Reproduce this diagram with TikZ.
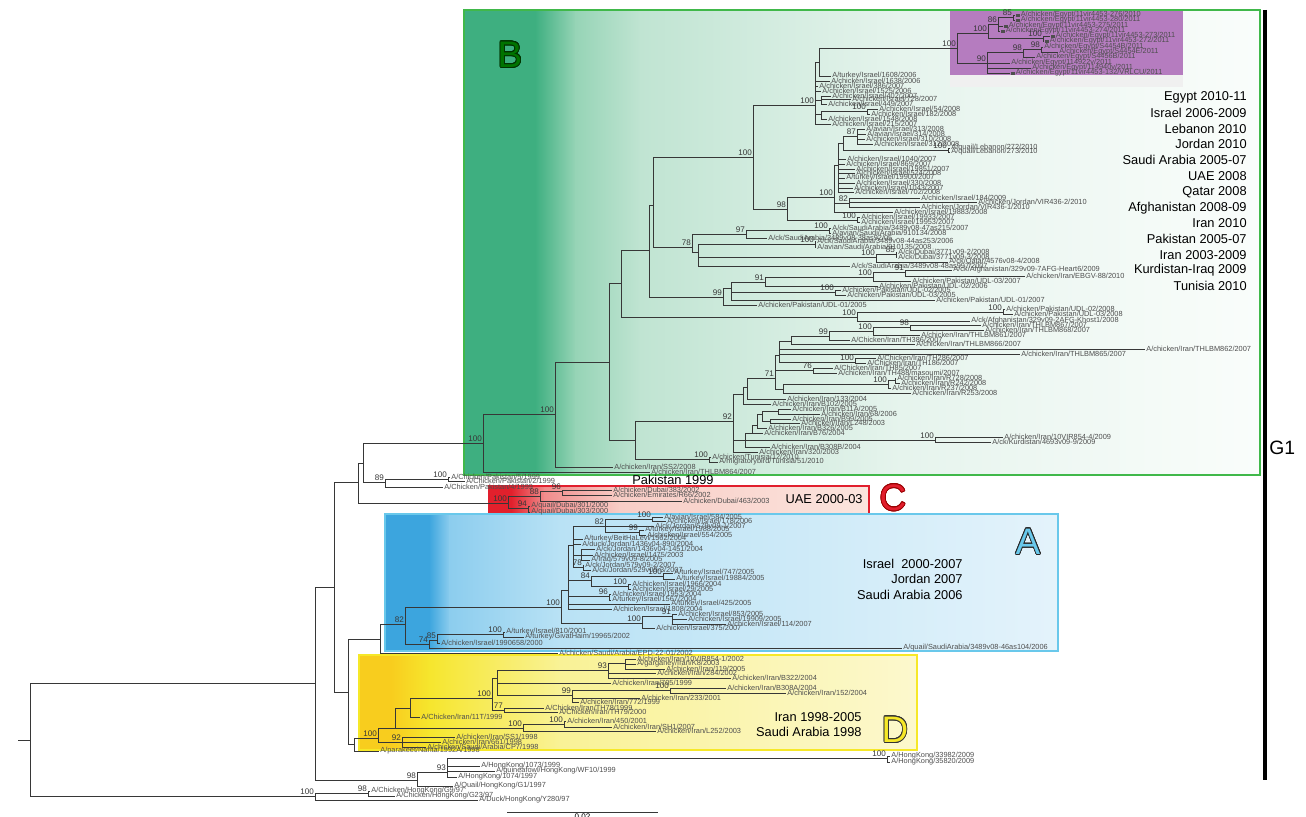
\documentclass[tikz,border=0pt]{standalone}
\usepackage{fontspec}
\setmainfont{Liberation Sans}
\usepackage[copies]{contour}
\contourlength{0.45pt}

\definecolor{brc}{RGB}{55,55,55}
\definecolor{lfc}{RGB}{78,78,78}
\definecolor{gA}{RGB}{62,175,128}
\definecolor{gB}{RGB}{150,212,182}
\definecolor{gC}{RGB}{192,228,210}
\definecolor{gD}{RGB}{230,244,237}
\definecolor{gE}{RGB}{250,253,251}
\definecolor{gline}{RGB}{64,184,74}
\definecolor{egy}{RGB}{181,124,191}
\definecolor{cA}{RGB}{226,32,44}
\definecolor{cB}{RGB}{240,140,140}
\definecolor{cC}{RGB}{248,205,198}
\definecolor{cD}{RGB}{251,228,221}
\definecolor{cline}{RGB}{225,30,45}
\definecolor{aA}{RGB}{60,165,222}
\definecolor{aB}{RGB}{140,205,238}
\definecolor{aC}{RGB}{185,226,245}
\definecolor{aD}{RGB}{228,243,251}
\definecolor{aline}{RGB}{105,200,235}
\definecolor{dA}{RGB}{248,205,30}
\definecolor{dB}{RGB}{246,230,45}
\definecolor{dC}{RGB}{249,242,150}
\definecolor{dD}{RGB}{252,248,205}
\definecolor{dline}{RGB}{246,232,40}

\newcounter{leafno}
% inner node: name, parent, x, y
\newcommand{\inode}[4]{\coordinate (#1) at (#3,#4); \draw[br] (#2) |- (#1);}
% inner node with bootstrap value
\newcommand{\bnode}[5]{\inode{#1}{#2}{#3}{#4}\node[bs] (#1-bs) at (#1) {#5};}
% leaf: parent, x, y, label
\newcommand{\tleaf}[4]{\stepcounter{leafno}%
  \node[lf] (lf\arabic{leafno}) at (#2,#3) {#4};
  \draw[br] (#1) |- (lf\arabic{leafno}.west);}
\newcommand{\esq}{\rule{1.8pt}{1.8pt}\hspace{0.7pt}}

\begin{document}
\begin{tikzpicture}[x=0.02cm,y=-0.02cm,
  br/.style={draw=brc,line width=0.55pt},
  lf/.style={anchor=west,inner sep=0.6pt,text=lfc,font=\fontsize{4.2}{4.2}\selectfont},
  bs/.style={anchor=south east,inner sep=0.5pt,text=brc,font=\fontsize{4.6}{4.6}\selectfont},
  reg/.style={inner sep=0pt,font=\fontsize{7.3}{7.3}\selectfont}]
\useasboundingbox (0,0) rectangle (1306,817);

% clade B
\fill[gA] (464,10) rectangle (536,475);
\shade[left color=gA,right color=gB] (535,10) rectangle (576,475);
\shade[left color=gB,right color=gC] (575,10) rectangle (641,475);
\shade[left color=gC,right color=gD] (640,10) rectangle (901,475);
\shade[left color=gD,right color=gE] (900,10) rectangle (1260,475);
\draw[gline,line width=1.2pt] (464,10) rectangle (1260,475);
\fill[egy] (950,11) rectangle (1183,75);
\fill[black!6] (950,75) rectangle (1183,87);
% clade C
\fill[cA] (489,486) rectangle (512,514);
\shade[left color=cA,right color=cB] (511,486) rectangle (545,514);
\shade[left color=cB,right color=cC] (544,486) rectangle (620,514);
\shade[left color=cC,right color=cD] (619,486) rectangle (869,514);
\draw[cline,line width=1.2pt] (489,486) rectangle (869,514);
% clade A
\fill[aA] (385,514) rectangle (430,651);
\shade[left color=aA,right color=aB] (429,514) rectangle (450,651);
\shade[left color=aB,right color=aC] (449,514) rectangle (560,651);
\shade[left color=aC,right color=aD] (559,514) rectangle (1058,651);
\draw[aline,line width=1.4pt] (385,514) rectangle (1058,651);
% clade D
\fill[dA] (359,655) rectangle (392,750);
\shade[left color=dA,right color=dB] (391,655) rectangle (430,750);
\shade[left color=dB,right color=dC] (429,655) rectangle (560,750);
\shade[left color=dC,right color=dD] (559,655) rectangle (917,750);
\draw[dline,line width=1.6pt] (359,655) rectangle (917,750);

% root
\coordinate (r0) at (18,740);
\coordinate (r) at (30,740);
\draw[br] (r0) -- (r);
\inode{n1}{r}{315}{683}
\inode{n2}{n1}{334}{587}
\inode{n3}{n2}{358}{482}
\inode{n3a}{n3}{363}{463}

% B
\bnode{bro}{n3a}{483}{443}{100}
\bnode{b1}{bro}{555}{414}{100}
\inode{b2}{b1}{609}{362}
\inode{b3}{b2}{621}{283}
\inode{b4}{b3}{649}{250}
\inode{b4a}{b4}{653}{205}
\bnode{n753}{b4a}{753}{157}{100}
\bnode{n815}{n753}{815}{105}{100}
\inode{n819}{n815}{819}{62}
\bnode{e0}{n819}{957}{48}{100}
\bnode{e1}{e0}{988}{33}{100}
\bnode{e3}{e1}{998}{24}{86}
\bnode{e5}{e3}{1013}{17}{85}
\tleaf{e5}{1015}{15}{\esq A/chicken/Egypt/11vir4453-276/2010}
\tleaf{e5}{1015}{20}{\esq A/chicken/Egypt/11vir4453-280/2011}
\tleaf{e3}{1003}{26}{\esq A/chicken/Egypt/11vir4453-275/2011}
\tleaf{e3}{1000}{31}{\esq A/chicken/Egypt/11vir4453-274/2011}
\bnode{e4}{e1}{1043}{38}{100}
\tleaf{e4}{1050}{36}{\esq A/chicken/Egypt/11vir4453-273/2011}
\tleaf{e4}{1044}{41}{\esq A/chicken/Egypt/11vir4453-272/2011}
\bnode{e2}{e0}{987}{63}{90}
\bnode{e6}{e2}{1023}{52}{98}
\bnode{e7}{e6}{1041}{49}{98}
\tleaf{e7}{1043}{47}{A/chicken/Egypt/S4454B/2011}
\tleaf{e7}{1058}{52}{A/chicken/Egypt/S4454E/2011}
\tleaf{e6}{1035}{57}{A/chicken/Egypt/S4456B/2011}
\tleaf{e2}{1010}{63}{A/chicken/Egypt/114922v/2011}
\tleaf{e2}{1031}{68}{A/chicken/Egypt/114940v/2011}
\tleaf{e2}{1010}{73}{\esq A/chicken/Egypt/11vir4453-132/VRLCU/2011}
\tleaf{n819}{831}{76}{A/turkey/Israel/1608/2006}
\tleaf{n815}{830}{81}{A/chicken/Israel/1638/2006}
\tleaf{n815}{818}{86}{A/chicken/Israel/386/2007}
\tleaf{n815}{821}{91}{A/chicken/Israel/1525/2006}
\inode{n821a}{n815}{821}{100}
\tleaf{n821a}{831}{96}{A/chicken/Israel/402/2007}
\tleaf{n821a}{851}{99}{A/chicken/Israel/728/2007}
\tleaf{n821a}{827}{104}{A/chicken/Israel/449/2007}
\inode{n821b}{n815}{821}{114}
\bnode{n867}{n821b}{867}{111}{100}
\tleaf{n867}{878}{109}{A/chicken/Israel/54/2008}
\tleaf{n867}{870}{114}{A/chicken/Israel/182/2008}
\tleaf{n821b}{827}{119}{A/chicken/Israel/1548/2008}
\tleaf{n815}{831}{124}{A/chicken/Israel/215/2007}
\bnode{n787}{n753}{787}{209}{98}
\bnode{n834}{n787}{834}{197}{100}
\inode{n838}{n834}{838}{165}
\inode{nl1}{n838}{843}{143}
\bnode{n87}{nl1}{857}{136}{87}
\tleaf{n87}{865}{129}{A/avian/Israel/313/2008}
\tleaf{n87}{866}{134}{A/avian/Israel/314/2008}
\tleaf{n87}{865}{139}{A/chicken/Israel/310/2008}
\tleaf{n87}{873}{144}{A/chicken/Israel/312/2008}
\bnode{nleb}{nl1}{948}{150}{100}
\tleaf{nleb}{950}{148}{A/quail/Lebanon/272/2010}
\tleaf{nleb}{950}{152}{A/quail/Lebanon/273/2010}
\tleaf{n838}{846}{159}{A/chicken/Israel/1040/2007}
\tleaf{n838}{845}{164}{A/chicken/Israel/869/2007}
\tleaf{n838}{855}{169}{A/chicken/Israel/19851/2007}
\tleaf{n838}{855}{173}{A/chicken/Israel/524/2008}
\tleaf{n838}{845}{178}{A/turkey/Israel/19900/2007}
\tleaf{n838}{855}{183}{A/chicken/Israel/330/2008}
\tleaf{n838}{853}{188}{A/chicken/Israel/1043/2007}
\tleaf{n838}{854}{192}{A/chicken/Israel/702/2008}
\bnode{n82}{n834}{849}{203}{82}
\tleaf{n82}{920}{198}{A/chicken/Israel/184/2009}
\tleaf{n82}{977}{202}{A/chicken/Jordan/VIR436-2/2010}
\tleaf{n82}{920}{207}{A/chicken/Jordan/VIR436-1/2010}
\tleaf{n834}{893}{212}{A/chicken/Israel/19883/2008}
\bnode{n858}{n787}{857}{220}{100}
\tleaf{n858}{860}{217}{A/chicken/Israel/19933/2007}
\tleaf{n858}{860}{222}{A/chicken/Israel/19953/2007}
\bnode{n78}{b4a}{692}{247}{78}
\bnode{n97}{n78}{746}{234}{97}
\bnode{nsa1}{n97}{829}{230}{100}
\tleaf{nsa1}{831}{228}{A/ck/SaudiArabia/3489v08-47as215/2007}
\tleaf{nsa1}{831}{233}{A/avian/Saudi/Arabia/910134/2008}
\tleaf{n97}{767}{238}{A/ck/SaudiArabia/3489v08-38as92/05}
\inode{n698}{n78}{698}{252}
\bnode{nsa2}{n698}{815}{244}{100}
\tleaf{nsa2}{816}{241}{A/ck/SaudiArabia/3489v08-44as253/2006}
\tleaf{nsa2}{816}{247}{A/avian/Saudi/Arabia/910135/2008}
\bnode{ndq}{n698}{876}{257}{100}
\bnode{n85d}{ndq}{896}{254}{85}
\tleaf{n85d}{897}{252}{A/ck/Dubai/3771v09-2/2008}
\tleaf{n85d}{897}{257}{A/ck/Dubai/3771v09-3/2008}
\tleaf{ndq}{948}{262}{A/ck/Qatar/4576v08-4/2008}
\tleaf{n698}{850}{266}{A/ck/SaudiArabia/3489v08-48as997/2007}
\bnode{n99}{b4}{723}{297}{99}
\inode{n731}{n99}{731}{288}
\bnode{n765}{n731}{765}{282}{91}
\bnode{n873p}{n765}{873}{277}{100}
\bnode{n905}{n873p}{905}{272}{91}
\tleaf{n905}{952}{270}{A/ck/Afghanistan/329v09-7AFG-Heart6/2009}
\tleaf{n905}{1025}{276}{A/chicken/Iran/EBGV-88/2010}
\tleaf{n873p}{911}{281}{A/chicken/Pakistan/UDL-03/2007}
\tleaf{n765}{878}{286}{A/chicken/Pakistan/UDL-02/2006}
\bnode{n835}{n731}{835}{292}{100}
\tleaf{n835}{841}{290}{A/chicken/Pakistan/UDL-02/2005}
\tleaf{n835}{846}{295}{A/chicken/Pakistan/UDL-03/2005}
\tleaf{n731}{935}{300}{A/chicken/Pakistan/UDL-01/2007}
\tleaf{n99}{757}{305}{A/chicken/Pakistan/UDL-01/2005}
\bnode{nk}{b3}{857}{317}{100}
\bnode{nu}{nk}{1003}{312}{100}
\tleaf{nu}{1005}{309}{A/chicken/Pakistan/UDL-02/2008}
\tleaf{nu}{1013}{314}{A/chicken/Pakistan/UDL-03/2008}
\tleaf{nk}{970}{321}{A/ck/Afghanistan/329v09-2AFG-Khost1/2008}
\inode{nir}{b2}{635}{440}
\bnode{n92}{nir}{733}{421}{92}
\inode{nc}{n92}{743}{394}
\inode{nd}{nc}{747}{387}
\bnode{n71}{nd}{775}{378}{71}
\inode{na}{n71}{779}{355}
\inode{nb}{na}{791}{341}
\bnode{n99b}{nb}{829}{336}{99}
\bnode{n100a}{n99b}{873}{331}{100}
\bnode{n98}{n100a}{910}{327}{98}
\tleaf{n98}{981}{325}{A/chicken/Iran/THLBM867/2007}
\tleaf{n98}{984}{330}{A/chicken/Iran/THLBM868/2007}
\tleaf{n100a}{920}{335}{A/chicken/Iran/THLBM861/2007}
\tleaf{n99b}{850}{340}{A/Chicken/Iran/TH386/2007}
\tleaf{nb}{915}{344}{A/chicken/Iran/THLBM866/2007}
\tleaf{na}{1145}{349}{A/chicken/Iran/THLBM862/2007}
\tleaf{na}{1020}{354}{A/chicken/Iran/THLBM865/2007}
\bnode{n100b}{na}{855}{362}{100}
\tleaf{n100b}{876}{358}{A/Chicken/Iran/TH286/2007}
\tleaf{n100b}{866}{363}{A/Chicken/Iran/TH186/2007}
\bnode{n76}{n71}{813}{370}{76}
\tleaf{n76}{833}{368}{A/Chicken/Iran/TH85/2007}
\tleaf{n76}{837}{373}{A/chicken/Iran/TH488/masoumi/2007}
\inode{nr}{n71}{783}{389}
\bnode{n100c}{nr}{888}{384}{100}
\inode{n895}{n100c}{895}{380}
\tleaf{n895}{896}{378}{A/chicken/Iran/R728/2008}
\tleaf{n895}{900}{383}{A/chicken/Iran/R242/2008}
\tleaf{n100c}{891}{388}{A/chicken/Iran/R237/2008}
\tleaf{nr}{911}{393}{A/chicken/Iran/R253/2008}
\tleaf{nd}{786}{399}{A/chicken/Iran/133/2004}
\tleaf{nc}{771}{404}{A/chicken/Iran/B102/2005}
\inode{nf}{n92}{745}{440}
\inode{ng}{nf}{752}{433}
\inode{nh}{ng}{757}{425}
\inode{nh2}{nh}{762}{414}
\inode{ni}{nh2}{778}{411}
\tleaf{ni}{791}{409}{A/chicken/Iran/B11A/2005}
\tleaf{ni}{820}{414}{A/chicken/Iran/68/2006}
\inode{nj}{nh2}{770}{421}
\tleaf{nj}{791}{419}{A/chicken/Iran/B99/2005}
\tleaf{nj}{800}{423}{A/chicken/Iran/L248/2003}
\tleaf{nh}{767}{428}{A/chicken/Iran/B326/2005}
\tleaf{ng}{763}{433}{A/chicken/Iran/B76/2004}
\bnode{nku}{nf}{935}{440}{100}
\tleaf{nku}{1003}{437}{A/chicken/Iran/10VIR854-4/2009}
\tleaf{nku}{991}{442}{A/ck/Kurdistan/4693v09-9/2009}
\tleaf{nf}{770}{447}{A/chicken/Iran/B308B/2004}
\tleaf{n92}{758}{452}{A/chicken/Iran/320/2003}
\bnode{ntu}{nir}{709}{459}{100}
\tleaf{ntu}{711}{457}{A/chicken/Tunisia/12/2010}
\tleaf{ntu}{718}{462}{A/migratorybird/Tunisia/51/2010}
\tleaf{b1}{613}{467}{A/chicken/Iran/SS2/2008}
\tleaf{bro}{650}{472}{A/chicken/Iran/THLBM864/2007}

% Pakistan 1999
\bnode{npk}{n3a}{385}{482}{89}
\bnode{npk2}{npk}{448}{479}{100}
\tleaf{npk2}{450}{477}{A/Chicken/Pakistan/5/1999}
\tleaf{npk2}{465}{481}{A/Chicken/Pakistan/2/1999}
\tleaf{npk}{443}{487}{A/Chicken/Pakistan/4/1999}

% C
\bnode{cro}{n3}{508}{503}{100}
\bnode{n88}{cro}{540}{496}{88}
\bnode{n96}{n88}{562}{491}{96}
\tleaf{n96}{612}{490}{A/chicken/Dubai/383/2002}
\tleaf{n96}{612}{495}{A/chicken/Emirates/R66/2002}
\tleaf{n88}{682}{501}{A/chicken/Dubai/463/2003}
\bnode{n94}{cro}{528}{508}{94}
\tleaf{n94}{530}{506}{A/quail/Dubai/301/2000}
\tleaf{n94}{530}{512}{A/quail/Dubai/303/2000}

% A
\inode{n348}{n2}{348}{692}
\inode{n380}{n348}{380}{639}
\bnode{nar}{n380}{405}{624}{82}
\bnode{na100}{nar}{561}{607}{100}
\inode{n568}{na100}{568}{590}
\inode{n573}{n568}{573}{545}
\bnode{n605}{n573}{605}{526}{82}
\bnode{n652}{n605}{652}{519}{100}
\tleaf{n652}{663}{517}{A/avian/Israel/584/2005}
\tleaf{n652}{666}{521}{A/chicken/Israel/178/2006}
\tleaf{n605}{654}{526}{A/ck/Jordan/579v09-1/2007}
\bnode{n639}{n605}{639}{532}{99}
\tleaf{n639}{644}{530}{A/turkey/Israel/1988/2005}
\tleaf{n639}{646}{535}{A/chicken/Israel/554/2005}
\tleaf{n573}{583}{539}{A/turkey/BeitHaLevi/1562/2004}
\tleaf{n573}{581}{544}{A/duck/Jordan/1436v04-890/2004}
\inode{n581}{n573}{581}{555}
\tleaf{n581}{595}{549}{A/ck/Jordan/1436v04-1451/2004}
\tleaf{n581}{593}{555}{A/chicken/Israel/1475/2003}
\tleaf{n581}{590}{560}{A/Iraq/579v09-8/2005}
\bnode{n583}{n573}{583}{567}{78}
\tleaf{n583}{584}{565}{A/ck/Jordan/579v09-2/2007}
\tleaf{n583}{591}{570}{A/ck/Jordan/529v09-3/2007}
\bnode{n591}{n568}{591}{580}{84}
\bnode{n663}{n591}{663}{576}{100}
\tleaf{n663}{673}{573}{A/turkey/Israel/747/2005}
\tleaf{n663}{675}{579}{A/turkey/Israel/19884/2005}
\bnode{n628}{n591}{628}{586}{100}
\tleaf{n628}{631}{584}{A/chicken/Israel/1966/2004}
\tleaf{n628}{631}{589}{A/chicken/Israel/29/2005}
\bnode{n609}{n568}{609}{596}{96}
\tleaf{n609}{611}{594}{A/chicken/Israel/1953/2004}
\tleaf{n609}{611}{600}{A/turkey/Israel/1567/2004}
\tleaf{n568}{670}{604}{A/turkey/Israel/425/2005}
\tleaf{n568}{612}{609}{A/chicken/Israel/1808/2004}
\bnode{n642}{na100}{642}{623}{100}
\bnode{n672}{n642}{672}{616}{91}
\tleaf{n672}{677}{614}{A/chicken/Israel/853/2005}
\tleaf{n672}{687}{619}{A/chicken/Israel/19909/2005}
\tleaf{n672}{726}{624}{A/chicken/Israel/114/2007}
\tleaf{n642}{655}{628}{A/chicken/Israel/375/2007}
\bnode{n74}{nar}{429}{644}{74}
\bnode{n85a}{n74}{437}{640}{85}
\bnode{n503}{n85a}{503}{634}{100}
\tleaf{n503}{505}{632}{A/turkey/Israel/810/2001}
\tleaf{n503}{524}{637}{A/turkey/GivatHaim/19965/2002}
\tleaf{n85a}{440}{643}{A/chicken/Israel/1990658/2000}
\tleaf{n74}{902}{648}{A/quail/SaudiArabia/3489v08-46as104/2006}
\tleaf{n380}{558}{653}{A/chicken/Saudi/Arabia/EPD-22-01/2002}

% D
\inode{n354}{n348}{354}{744}
\bnode{ndr}{n354}{378}{738}{100}
\inode{nda}{ndr}{395}{728}
\inode{ndb}{nda}{410}{708}
\bnode{nd100}{ndb}{492}{698}{100}
\inode{nx}{nd100}{497}{678}
\bnode{n93}{nx}{608}{670}{93}
\inode{n625}{n93}{625}{663}
\tleaf{n625}{636}{659}{A/chicken/Iran/10VIR854-1/2002}
\tleaf{n625}{636}{664}{A/garganey/Iran/K8/2003}
\tleaf{n625}{665}{669}{A/chicken/Iran/119/2005}
\tleaf{n93}{656}{673}{A/chicken/Iran/284/2002}
\tleaf{n93}{731}{678}{A/chicken/Iran/B322/2004}
\tleaf{nx}{611}{683}{A/chicken/Iran/705/1999}
\bnode{n99d}{nx}{572}{695}{99}
\bnode{n670}{n99d}{670}{690}{100}
\tleaf{n670}{726}{688}{A/chicken/Iran/B308A/2004}
\tleaf{n670}{786}{693}{A/chicken/Iran/152/2004}
\tleaf{n99d}{640}{698}{A/chicken/Iran/233/2001}
\tleaf{n99d}{579}{702}{A/chicken/Iran/772/1999}
\bnode{n77}{nd100}{504}{710}{77}
\tleaf{n77}{544}{708}{A/Chicken/Iran/TH78/1999}
\tleaf{n77}{558}{712}{A/Chicken/Iran/TH79/2000}
\tleaf{ndb}{420}{717}{A/Chicken/Iran/11T/1999}
\bnode{nl}{nda}{523}{728}{100}
\bnode{n564}{nl}{564}{724}{100}
\tleaf{n564}{566}{721}{A/chicken/Iran/450/2001}
\tleaf{n564}{612}{727}{A/chicken/Iran/SH1/2007}
\tleaf{nl}{656}{731}{A/chicken/Iran/L252/2003}
\bnode{n92d}{ndr}{402}{742}{92}
\tleaf{n92d}{455}{737}{A/chicken/Iran/SS1/1998}
\tleaf{n92d}{441}{742}{A/chicken/Iran/661/1998}
\tleaf{n92d}{426}{747}{A/chicken/Saudi/Arabia/CP7/1998}
\tleaf{n354}{379}{751}{A/parakeet/Narita/1992A/1998}

% Hong Kong
\bnode{hk2}{n1}{417}{780}{98}
\bnode{hk3}{hk2}{447}{772}{93}
\bnode{hk4}{hk3}{887}{758}{100}
\tleaf{hk4}{890}{756}{A/HongKong/33982/2009}
\tleaf{hk4}{890}{762}{A/HongKong/35820/2009}
\tleaf{hk3}{480}{766}{A/HongKong/1073/1999}
\tleaf{hk3}{495}{771}{A/guineafowl/HongKong/WF10/1999}
\tleaf{hk3}{457}{777}{A/HongKong/1074/1997}
\tleaf{hk2}{453}{786}{A/Quail/HongKong/G1/1997}
\bnode{hk}{r}{315}{796}{100}
\bnode{hk5}{hk}{368}{793}{98}
\tleaf{hk5}{370}{791}{A/Chicken/HongKong/G9/97}
\tleaf{hk5}{395}{796}{A/Chicken/HongKong/G23/97}
\tleaf{hk}{478}{800}{A/Duck/HongKong/Y280/97}

% scale bar
\coordinate (sb1) at (507,812);
\coordinate (sb2) at (658,812);
\draw[br] (sb1) -- (sb2) node[midway,below=1pt,inner sep=0pt,font=\fontsize{4.6}{4.6}\selectfont] (sbl) {0.02};

% group bar
\coordinate (g1a) at (1265,10);
\coordinate (g1b) at (1265,780);
\draw[black,line width=1.8pt] (g1a) -- (g1b);
\node[anchor=west,inner sep=0pt,font=\fontsize{11}{11}\selectfont] (g1) at (1269,448) {G1};

% clade letters
\node (lb) at (510,55) {\fontsize{21}{21}\selectfont\contour{black!80!green}{\textcolor{green!45!black}{B}}};
\node (la) at (1028,542) {\fontsize{21}{21}\selectfont\contour{black!85}{\textcolor{aline}{A}}};
\node (lc) at (893,498) {\fontsize{21}{21}\selectfont\contour{red!60!black}{\textcolor{cline}{C}}};
\node (ld) at (895,730) {\fontsize{21}{21}\selectfont\contour{black!80}{\textcolor{dline}{D}}};

% countries
\node[reg,anchor=east] (t1) at (1247,97) {Egypt 2010-11};
\node[reg,anchor=east] (t2) at (1247,113) {Israel 2006-2009};
\node[reg,anchor=east] (t3) at (1247,129) {Lebanon 2010};
\node[reg,anchor=east] (t4) at (1247,144) {Jordan 2010};
\node[reg,anchor=east] (t5) at (1247,160) {Saudi Arabia 2005-07};
\node[reg,anchor=east] (t6) at (1247,176) {UAE 2008};
\node[reg,anchor=east] (t7) at (1247,192) {Qatar 2008};
\node[reg,anchor=east] (t8) at (1247,208) {Afghanistan 2008-09};
\node[reg,anchor=east] (t9) at (1247,223) {Iran 2010};
\node[reg,anchor=east] (t10) at (1247,239) {Pakistan 2005-07};
\node[reg,anchor=east] (t11) at (1247,255) {Iran 2003-2009};
\node[reg,anchor=east] (t12) at (1247,270) {Kurdistan-Iraq 2009};
\node[reg,anchor=east] (t13) at (1247,286) {Tunisia 2010};
\node[reg,anchor=west] (tpk) at (632,480) {Pakistan 1999};
\node[reg,anchor=east] (tuae) at (863,499) {UAE 2000-03};
\node[reg,anchor=east] (ta1) at (963,564) {Israel~~2000-2007};
\node[reg,anchor=east] (ta2) at (963,579) {Jordan 2007};
\node[reg,anchor=east] (ta3) at (963,595) {Saudi Arabia 2006};
\node[reg,anchor=east] (td1) at (862,717) {Iran 1998-2005};
\node[reg,anchor=east] (td2) at (862,732) {Saudi Arabia 1998};
\end{tikzpicture}
\end{document}
